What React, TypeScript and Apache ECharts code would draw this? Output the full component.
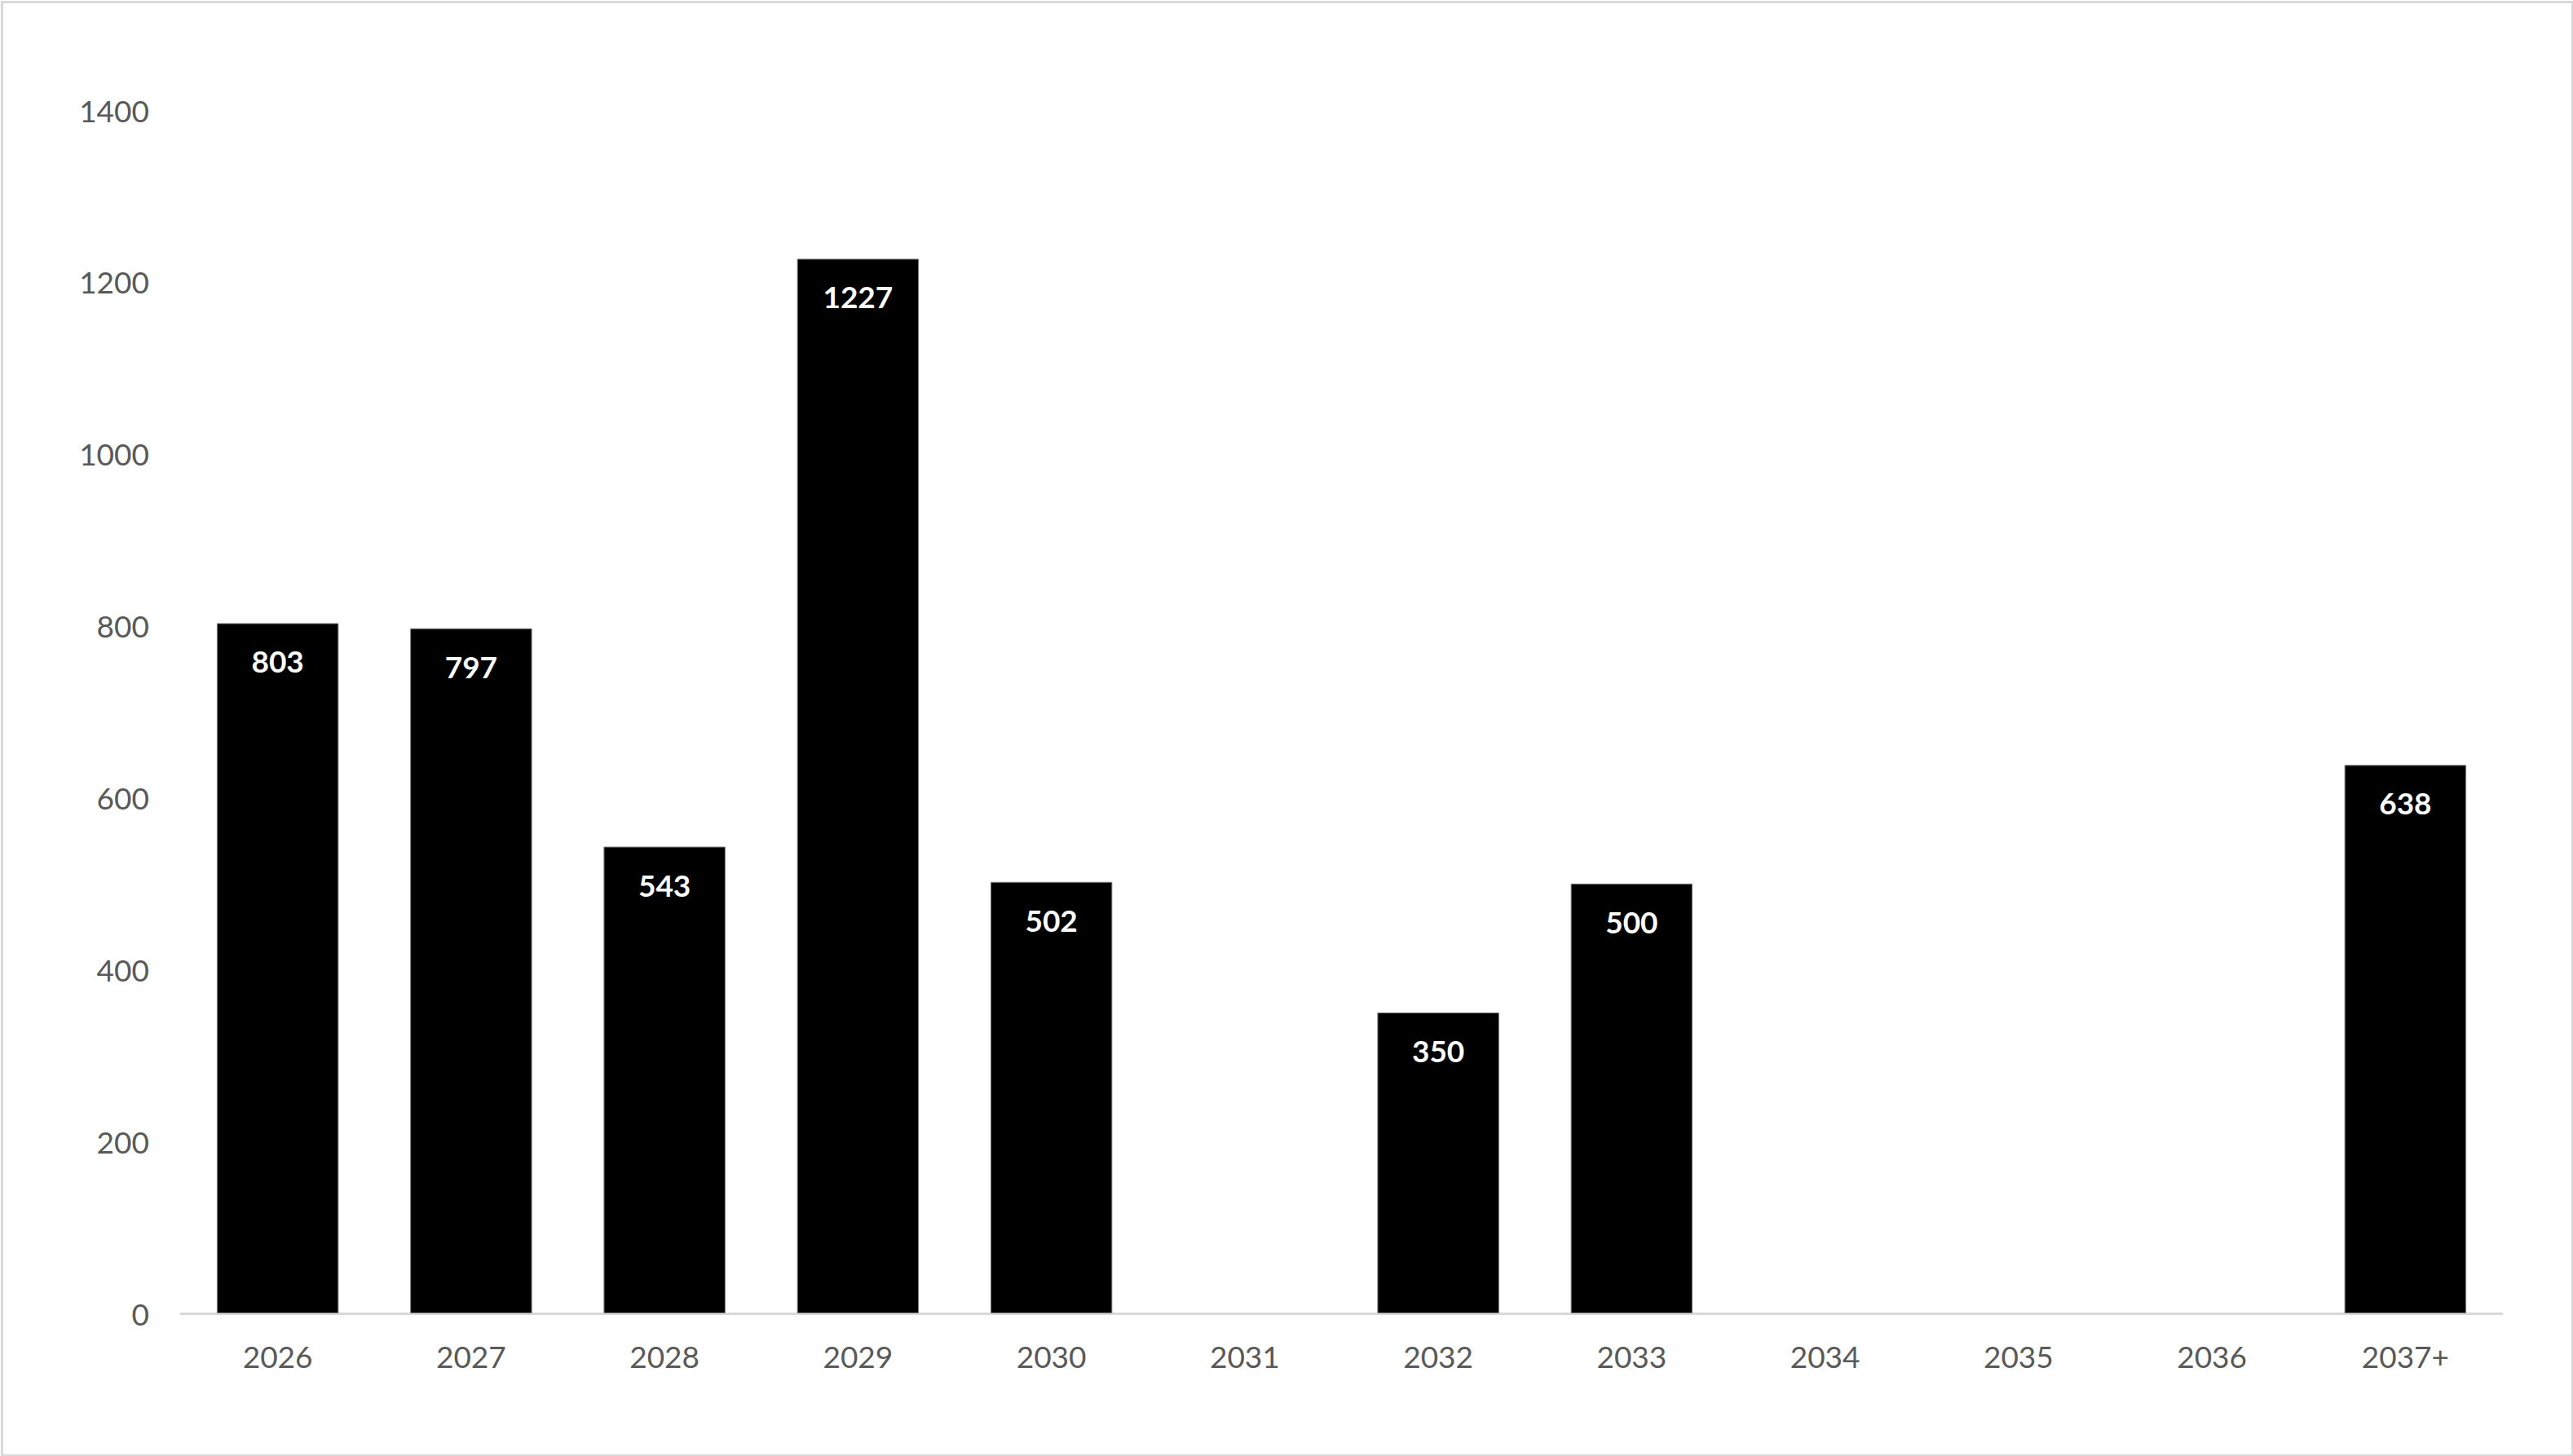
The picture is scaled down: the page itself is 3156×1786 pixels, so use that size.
import React, { useEffect, useRef } from "react";
import * as echarts from "echarts";

const categories = ["2026", "2027", "2028", "2029", "2030", "2031", "2032", "2033", "2034", "2035", "2036", "2037+"];
const values: (number | null)[] = [803, 797, 543, 1227, 502, null, 350, 500, null, null, null, 638];
const yTicks = [0, 200, 400, 600, 800, 1000, 1200, 1400];

const FONT = "Lato, 'Open Sans', 'Noto Sans', sans-serif";

export default function App() {
  const ref = useRef<HTMLDivElement>(null);
  useEffect(() => {
    document.body.style.margin = "0";
    const chart = echarts.init(ref.current!, null, { renderer: "svg" });
    chart.setOption({
      animation: false,
      backgroundColor: "#ffffff",
      graphic: [
        {
          type: "rect",
          left: 0,
          top: 0,
          shape: { x: 1.5, y: 1.5, width: 3153, height: 1783 },
          style: { fill: "none", stroke: "#d9d9d9", lineWidth: 3 },
          silent: true,
          z: 100,
        },
      ],
      grid: { left: 222, right: 87, top: 135, bottom: 175, containLabel: false },
      xAxis: {
        type: "category",
        data: categories,
        axisLine: { show: true, lineStyle: { color: "#d9d9d9", width: 3 } },
        axisTick: { show: false },
        axisLabel: { color: "#595959", fontSize: 37, fontFamily: FONT, margin: 34 },
      },
      yAxis: {
        type: "value",
        min: yTicks[0],
        max: yTicks[yTicks.length - 1],
        interval: 200,
        axisLine: { show: false },
        axisTick: { show: false },
        splitLine: { show: false },
        axisLabel: {
          color: "#595959",
          fontSize: 37,
          fontFamily: FONT,
          margin: 39,
          formatter: (v: number) => String(v),
        },
      },
      series: [
        {
          type: "bar",
          data: values,
          barCategoryGap: "37%",
          itemStyle: { color: "#000000", borderColor: "#7f7f7f", borderWidth: 1 },
          label: {
            show: true,
            position: "insideTop",
            distance: 28,
            color: "#ffffff",
            fontWeight: "bold",
            fontSize: 37,
            fontFamily: FONT,
          },
        },
      ],
    });
    return () => chart.dispose();
  }, []);
  return <div ref={ref} style={{ position: "absolute", left: 0, top: 0, width: 3156, height: 1786 }} />;
}
